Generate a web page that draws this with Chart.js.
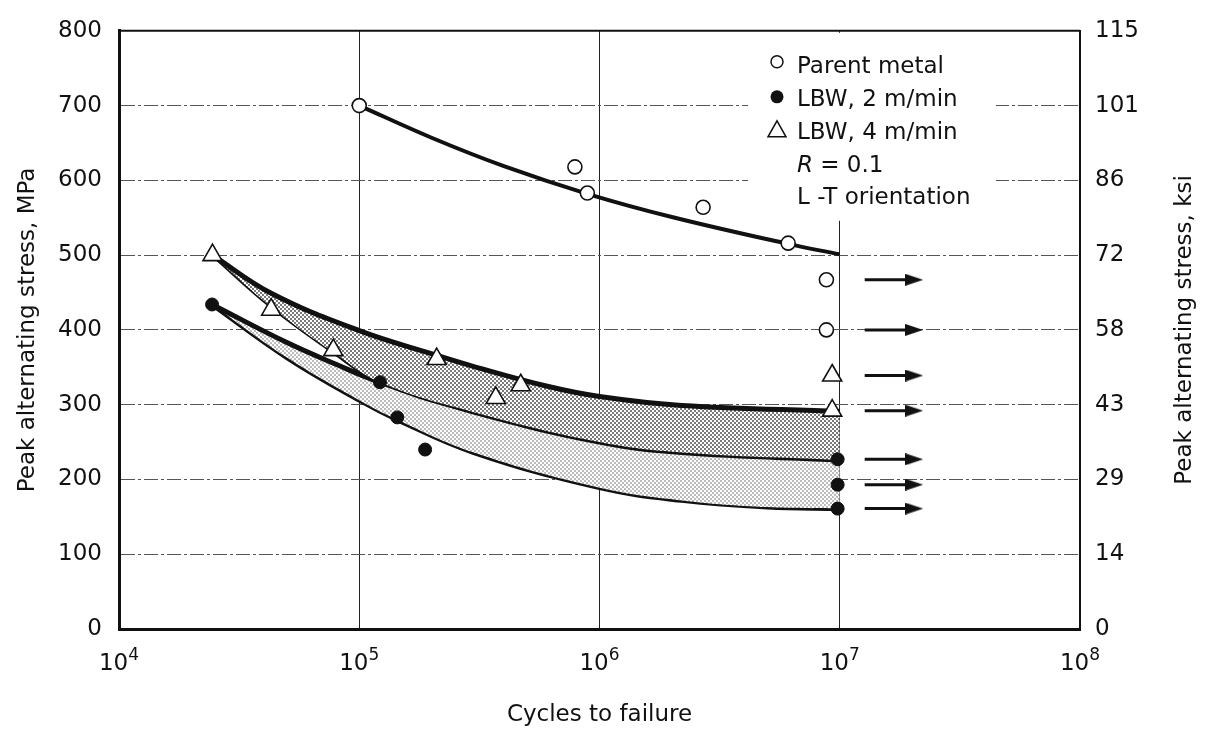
<!DOCTYPE html>
<html>
<head>
<meta charset="utf-8">
<script src="https://cdn.jsdelivr.net/npm/chart.js@4.4.1/dist/chart.umd.min.js"></script>
<style>
  html, body { margin: 0; padding: 0; background: #fff; }
  #wrap { width: 1205px; height: 732px; }
</style>
</head>
<body>
<div id="wrap"><canvas id="chartFatigue" width="1205" height="732"></canvas></div>
<script>
  // Ejes
  const xTickValues = [1e4, 1e5, 1e6, 1e7, 1e8];
  const xTickExponents = ['4', '5', '6', '7', '8'];
  const yTickValues = [0, 100, 200, 300, 400, 500, 600, 700, 800];
  const ksiTickLabels = ['0', '14', '29', '43', '58', '72', '86', '101', '115'];

  // Puntos medidos
  const parentCycles = [1e5, 7.9e5, 8.9e5, 2.7e6, 6.1e6, 8.8e6, 8.8e6];
  const parentStress = [700, 618, 583, 564, 516, 467, 400];
  const lbw2Cycles = [2.44e4, 1.22e5, 1.44e5, 1.88e5, 9.8e6, 9.8e6, 9.8e6];
  const lbw2Stress = [434, 330, 283, 240, 227, 193, 161];
  const lbw4Cycles = [2.45e4, 4.3e4, 7.8e4, 2.1e5, 3.7e5, 4.7e5, 9.3e6, 9.3e6];
  const lbw4Stress = [500, 427, 373, 361, 309, 326, 339, 292];

  // Curvas trazadas
  const parentFitCycles = [1e5, 2e5, 4e5, 8.9e5, 2e6, 6.1e6, 1e7];
  const parentFitStress = [700, 657, 619, 582, 551, 515, 501];
  const lbw4UpperCycles = [2.45e4, 4.3e4, 1e5, 2.1e5, 3e5, 6e5, 1e6, 2.2e6, 1e7];
  const lbw4UpperStress = [500, 449, 399, 366, 351, 325, 311, 299, 291];
  const lbw4LowerCycles = [2.45e4, 4.3e4, 7.8e4, 1.22e5, 3e5, 1e6, 2.2e6, 1e7];
  const lbw4LowerStress = [500, 431, 370, 330, 290, 250, 236, 226];
  const lbw2UpperCycles = [2.44e4, 5e4, 8e4, 1.22e5, 3e5, 1e6, 2.2e6, 1e7];
  const lbw2UpperStress = [434, 383, 354, 330, 290, 250, 236, 226];
  const lbw2LowerCycles = [2.44e4, 5e4, 1e5, 1.44e5, 3e5, 1e6, 2.2e6, 5e6, 1e7];
  const lbw2LowerStress = [434, 363, 306, 280, 236, 189, 172, 163, 161];

  // Run-outs (flechas)
  const runoutStress = [467, 400, 339, 292, 227, 193, 161];
  const arrowFromCycles = 1.27e7;
  const arrowToCycles = 2.04e7;

  const legendLabels = ['Parent metal', 'LBW, 2 m/min', 'LBW, 4 m/min'];
  const FONT = 'DejaVu Sans';

  function toPoints(xs, ys) {
    return xs.map((x, i) => ({ x: x, y: ys[i] }));
  }

  function makeDots(size, dot, color) {
    const c = document.createElement('canvas');
    c.width = size; c.height = size;
    const g = c.getContext('2d');
    g.fillStyle = '#fff';
    g.fillRect(0, 0, size, size);
    g.fillStyle = color;
    g.fillRect(0, 0, dot, dot);
    g.fillRect(size / 2, size / 2, dot, dot);
    return g.createPattern(c, 'repeat');
  }

  function makeArrowHead() {
    const c = document.createElement('canvas');
    c.width = 18; c.height = 12;
    const g = c.getContext('2d');
    g.fillStyle = '#111';
    g.beginPath();
    g.moveTo(0, 0); g.lineTo(18, 6); g.lineTo(0, 12);
    g.closePath();
    g.fill();
    return c;
  }

  const darkDots = makeDots(4, 2, '#7a7a7a');
  const lightDots = makeDots(4, 2, '#bdbdbd');
  const arrowHead = makeArrowHead();

  const arrowData = runoutStress.flatMap(s => [
    { x: arrowFromCycles, y: s },
    { x: arrowToCycles, y: s },
    { x: arrowToCycles, y: null }
  ]);

  // Leyenda dentro del área, marco superior, etiquetas 10^n y título derecho
  const boxLegend = {
    id: 'boxLegend',
    beforeDatasetsDraw(chart) {
      const ctx = chart.ctx;
      const a = chart.chartArea;
      const boxL = a.right - 332, boxR = a.right - 84;
      const boxT = a.top + 2, boxB = a.top + 190;
      ctx.save();
      ctx.fillStyle = '#fff';
      ctx.fillRect(boxL, boxT, boxR - boxL, boxB - boxT);

      const symX = a.right - 303, txtX = a.right - 283;
      const rows = [34, 67, 100, 133, 165].map(r => a.top + r);
      ctx.fillStyle = '#111';
      ctx.strokeStyle = '#111';
      ctx.lineWidth = 1.5;
      ctx.font = '23px "' + FONT + '"';
      ctx.textBaseline = 'alphabetic';
      ctx.textAlign = 'left';

      // círculo abierto
      ctx.beginPath();
      ctx.arc(symX, rows[0] - 3, 6, 0, Math.PI * 2);
      ctx.stroke();
      // círculo lleno
      ctx.beginPath();
      ctx.arc(symX, rows[1] - 1, 6.5, 0, Math.PI * 2);
      ctx.fill();
      // triángulo abierto
      ctx.beginPath();
      ctx.moveTo(symX, rows[2] - 10);
      ctx.lineTo(symX + 9, rows[2] + 6);
      ctx.lineTo(symX - 9, rows[2] + 6);
      ctx.closePath();
      ctx.stroke();

      legendLabels.forEach((t, i) => ctx.fillText(t, txtX, rows[i] + 8));

      ctx.font = 'italic 23px "' + FONT + '"';
      ctx.fillText('R', txtX, rows[3] + 8);
      const w = ctx.measureText('R').width;
      ctx.font = '23px "' + FONT + '"';
      ctx.fillText(' = 0.1', txtX + w, rows[3] + 8);
      ctx.fillText('L -T orientation', txtX, rows[4] + 8);
      ctx.restore();
    },
    afterDraw(chart) {
      const ctx = chart.ctx;
      const a = chart.chartArea;
      const xs = chart.scales.x;
      ctx.save();
      ctx.strokeStyle = '#111';
      ctx.lineWidth = 2;
      ctx.beginPath();
      ctx.moveTo(a.left, a.top);
      ctx.lineTo(a.right, a.top);
      ctx.stroke();

      // etiquetas 10^n con exponente elevado
      ctx.fillStyle = '#111';
      ctx.textAlign = 'left';
      ctx.textBaseline = 'alphabetic';
      xTickValues.forEach((v, i) => {
        const px = xs.getPixelForValue(v);
        ctx.font = '23px "' + FONT + '"';
        const wBase = ctx.measureText('10').width;
        ctx.font = '17px "' + FONT + '"';
        const wExp = ctx.measureText(xTickExponents[i]).width;
        const x0 = px - (wBase + wExp) / 2;
        ctx.font = '23px "' + FONT + '"';
        ctx.fillText('10', x0, a.bottom + 41);
        ctx.font = '17px "' + FONT + '"';
        ctx.fillText(xTickExponents[i], x0 + wBase, a.bottom + 31);
      });

      ctx.translate(1185, (a.top + a.bottom) / 2);
      ctx.rotate(-Math.PI / 2);
      ctx.font = '23px "' + FONT + '"';
      ctx.textAlign = 'center';
      ctx.textBaseline = 'middle';
      ctx.fillText('Peak alternating stress, ksi', 0, 0);
      ctx.restore();
    }
  };

  const curveBase = {
    pointRadius: 0,
    borderColor: '#111',
    tension: 0.4,
    showLine: true
  };

  function init() {
    const canvas = document.getElementById('chartFatigue');
    if (!canvas) return;

    Chart.defaults.font.family = FONT;
    Chart.defaults.font.size = 23;
    Chart.defaults.color = '#111';

    new Chart(canvas.getContext('2d'), {
      type: 'scatter',
      data: {
        datasets: [
          {
            label: 'Parent metal',
            data: toPoints(parentCycles, parentStress),
            pointStyle: 'circle',
            pointRadius: 7,
            pointBackgroundColor: '#fff',
            pointBorderColor: '#111',
            pointBorderWidth: 1.6
          },
          {
            label: 'LBW, 4 m/min',
            data: toPoints(lbw4Cycles, lbw4Stress),
            pointStyle: 'triangle',
            pointRadius: 11,
            pointBackgroundColor: '#fff',
            pointBorderColor: '#111',
            pointBorderWidth: 1.6
          },
          {
            label: 'LBW, 2 m/min',
            data: toPoints(lbw2Cycles, lbw2Stress),
            pointStyle: 'circle',
            pointRadius: 6.5,
            pointBackgroundColor: '#111',
            pointBorderColor: '#111',
            pointBorderWidth: 1
          },
          {
            label: 'Run-out',
            data: arrowData,
            showLine: true,
            spanGaps: false,
            borderColor: '#111',
            borderWidth: 3,
            pointStyle: arrowHead,
            pointRadius: ctx => (ctx.dataIndex % 3 === 1 ? 6 : 0)
          },
          Object.assign({}, curveBase, {
            label: 'Parent fit',
            data: toPoints(parentFitCycles, parentFitStress),
            borderWidth: 4
          }),
          Object.assign({}, curveBase, {
            label: 'LBW 4 upper',
            data: toPoints(lbw4UpperCycles, lbw4UpperStress),
            borderWidth: 5,
            backgroundColor: darkDots,
            fill: '+1'
          }),
          Object.assign({}, curveBase, {
            label: 'LBW 4 lower',
            data: toPoints(lbw4LowerCycles, lbw4LowerStress),
            borderWidth: 3.5
          }),
          Object.assign({}, curveBase, {
            label: 'LBW 2 upper',
            data: toPoints(lbw2UpperCycles, lbw2UpperStress),
            borderWidth: 5,
            backgroundColor: lightDots,
            fill: '+1'
          }),
          Object.assign({}, curveBase, {
            label: 'LBW 2 lower',
            data: toPoints(lbw2LowerCycles, lbw2LowerStress),
            borderWidth: 5
          })
        ]
      },
      options: {
        responsive: false,
        animation: false,
        layout: { padding: { top: 23, left: 0, right: 0, bottom: 0 } },
        plugins: {
          legend: { display: false },
          tooltip: { enabled: false }
        },
        scales: {
          x: {
            type: 'logarithmic',
            position: 'bottom',
            min: 1e4,
            max: 1e8,
            afterBuildTicks: s => { s.ticks = xTickValues.map(v => ({ value: v })); },
            afterFit: s => { s.height = 103; },
            ticks: { display: false, autoSkip: false, maxRotation: 0 },
            grid: { color: '#222', lineWidth: 1, drawTicks: false },
            border: { color: '#111', width: 3 },
            title: {
              display: true,
              text: 'Cycles to failure',
              padding: { top: 0, bottom: 3 }
            }
          },
          y: {
            position: 'left',
            min: 0,
            max: 800,
            afterBuildTicks: s => { s.ticks = yTickValues.map(v => ({ value: v })); },
            afterFit: s => { s.width = 119; },
            ticks: { padding: 17 },
            grid: { color: '#555', lineWidth: 1, drawTicks: false },
            border: { color: '#111', width: 3, dash: [14, 3, 3, 3] },
            title: {
              display: true,
              text: 'Peak alternating stress, MPa',
              padding: { top: 14, bottom: 0 }
            }
          },
          y2: {
            position: 'right',
            min: 0,
            max: 800,
            afterBuildTicks: s => { s.ticks = yTickValues.map(v => ({ value: v })); },
            afterFit: s => { s.width = 125; },
            ticks: {
              padding: 15,
              callback: v => ksiTickLabels[yTickValues.indexOf(v)]
            },
            grid: { display: false, drawTicks: false },
            border: { color: '#111', width: 2 }
          }
        }
      },
      plugins: [boxLegend]
    });
  }

  if (document.readyState === 'loading') {
    document.addEventListener('DOMContentLoaded', init);
  } else {
    init();
  }
</script>
</body>
</html>
